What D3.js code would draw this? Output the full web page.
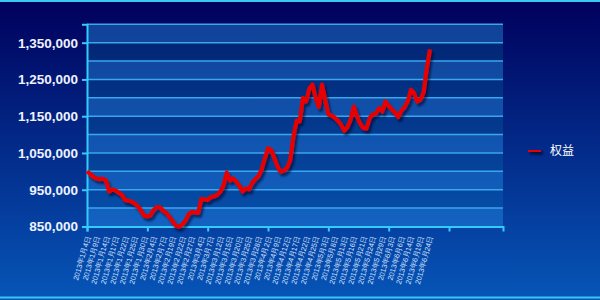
<!DOCTYPE html>
<html>
  <head>
    <meta charset="utf-8" />
    <script src="https://cdn.jsdelivr.net/npm/d3@7"></script>
    <style>
      html, body { margin: 0; padding: 0; background: #000a5e; }
      #container { width: 600px; height: 300px; }
    </style>
  </head>
  <body>
    <div id="container"></div>
    <script>
      // trading days, 2013
      const dates = [
        "1/4", "1/7", "1/8", "1/9", "1/10", "1/11", "1/14", "1/15", "1/16", "1/17",
        "1/18", "1/21", "1/22", "1/23", "1/24", "1/25", "1/28", "1/29", "1/30", "1/31",
        "2/1", "2/4", "2/5", "2/6", "2/7", "2/8", "2/18", "2/19", "2/20", "2/21",
        "2/22", "2/25", "2/26", "2/27", "2/28", "3/1", "3/4", "3/5", "3/6", "3/7",
        "3/8", "3/11", "3/12", "3/13", "3/14", "3/15", "3/18", "3/19", "3/20", "3/21",
        "3/22", "3/25", "3/26", "3/27", "3/28", "3/29", "4/1", "4/2", "4/3", "4/8",
        "4/9", "4/10", "4/11", "4/12", "4/15", "4/16", "4/17", "4/18", "4/19", "4/22",
        "4/23", "4/24", "4/25", "4/26", "5/2", "5/3", "5/6", "5/7", "5/8", "5/9",
        "5/10", "5/13", "5/14", "5/15", "5/16", "5/17", "5/20", "5/21", "5/22", "5/23",
        "5/24", "5/27", "5/28", "5/29", "5/30", "5/31", "6/3", "6/4", "6/5", "6/6",
        "6/7", "6/13", "6/14", "6/17", "6/18", "6/19", "6/20", "6/21", "6/24"
      ];
      // 权益
      const equity = [
        1000000, 993000, 985000, 980000, 979000, 980000, 975000, 945000, 951000, 948000,
        942000, 936000, 922000, 920000, 918000, 913000, 905000, 893000, 880000, 877000,
        881000, 895000, 903000, 902000, 893000, 887000, 875000, 864000, 852000, 849000,
        856000, 866000, 883000, 890000, 888000, 887000, 925000, 924000, 922000, 930000,
        932000, 936000, 945000, 962000, 997000, 975000, 981000, 972000, 960000, 945000,
        954000, 951000, 968000, 979000, 987000, 1005000, 1035000, 1063000, 1058000, 1036000,
        1013000, 999000, 1002000, 1010000, 1031000, 1095000, 1138000, 1136000, 1200000, 1190000,
        1225000, 1236000, 1200000, 1175000, 1236000, 1195000, 1155000, 1152000, 1146000, 1138000,
        1127000, 1110000, 1120000, 1140000, 1176000, 1150000, 1130000, 1118000, 1116000, 1145000,
        1155000, 1158000, 1172000, 1163000, 1190000, 1178000, 1168000, 1160000, 1148000, 1165000,
        1175000, 1190000, 1222000, 1213000, 1190000, 1195000, 1215000, 1280000, 1332000
      ];
      const yTickValues = [850000, 950000, 1050000, 1150000, 1250000, 1350000];
      const gridValues = [850000, 900000, 950000, 1000000, 1050000, 1100000, 1150000, 1200000, 1250000, 1300000, 1350000, 1400000];
      const xTickMarks = [0, 19, 38, 57, 76, 95, 114];
      const seriesName = "权益";

      const W = 600, H = 300;
      const svg = d3.select("#container").append("svg")
        .attr("width", W).attr("height", H);

      const defs = svg.append("defs");
      const bg = defs.append("linearGradient").attr("id", "bg")
        .attr("x1", 0).attr("y1", 0).attr("x2", 0).attr("y2", 1);
      bg.append("stop").attr("offset", "0%").attr("stop-color", "#00005c");
      bg.append("stop").attr("offset", "100%").attr("stop-color", "#0656b8");
      const pg = defs.append("linearGradient").attr("id", "plotbg")
        .attr("x1", 0).attr("y1", 0).attr("x2", 0).attr("y2", 1);
      pg.append("stop").attr("offset", "0%").attr("stop-color", "#02226f");
      pg.append("stop").attr("offset", "100%").attr("stop-color", "#0650ac");
      const sh = defs.append("filter").attr("id", "shadow")
        .attr("filterUnits", "userSpaceOnUse")
        .attr("x", 0).attr("y", 0).attr("width", W).attr("height", H);
      sh.append("feDropShadow").attr("dx", 2).attr("dy", 3).attr("stdDeviation", 1.2)
        .attr("flood-color", "#000020").attr("flood-opacity", 0.55);

      svg.append("rect").attr("width", W).attr("height", H).attr("fill", "url(#bg)");
      svg.append("line").attr("x1", 0).attr("x2", W).attr("y1", 1).attr("y2", 1)
        .attr("stroke", "#38c8f0").attr("stroke-width", 2);
      svg.append("line").attr("x1", 0).attr("x2", W).attr("y1", 297.5).attr("y2", 297.5)
        .attr("stroke", "#38c8f0").attr("stroke-width", 2);

      const x = d3.scaleLinear().domain([0, 131]).range([87, 503]);
      const y = d3.scaleLinear().domain([850000, 1400000]).range([226.5, 24.3]);

      // plot area
      svg.append("rect")
        .attr("x", x(0)).attr("y", y(1400000))
        .attr("width", x(131) - x(0)).attr("height", y(850000) - y(1400000))
        .attr("fill", "url(#plotbg)");

      // lighter bands
      svg.append("g").selectAll("rect")
        .data(gridValues.filter((v, i) => i % 2 === 0 && i < gridValues.length - 1))
        .join("rect")
        .attr("x", x(0)).attr("width", x(131) - x(0))
        .attr("y", d => y(d + 50000)).attr("height", d => y(d) - y(d + 50000))
        .attr("fill", "#2f8af0").attr("opacity", 0.32);

      // gridlines
      svg.append("g").selectAll("line")
        .data(gridValues.slice(1))
        .join("line")
        .attr("x1", x(0)).attr("x2", x(131))
        .attr("y1", d => y(d)).attr("y2", d => y(d))
        .attr("stroke", "#3aa6ec").attr("stroke-width", 1.5);

      // y axis
      const yAxis = svg.append("g").attr("transform", `translate(${x(0)},0)`)
        .call(d3.axisLeft(y).tickValues(yTickValues).tickSize(5).tickPadding(4)
          .tickFormat(d3.format(",")));
      yAxis.select(".domain").attr("stroke", "#33ccff").attr("stroke-width", 2);
      yAxis.selectAll(".tick line").attr("stroke", "#33ccff").attr("stroke-width", 2);
      yAxis.selectAll(".tick text")
        .attr("fill", "#eef2ff").attr("font-family", "Liberation Sans, Arial, sans-serif")
        .attr("font-weight", "bold").attr("font-size", 13.5);

      // x axis tick marks
      const xAxis = svg.append("g").attr("transform", `translate(0,${y(850000)})`)
        .call(d3.axisBottom(x).tickValues(xTickMarks).tickSize(5).tickFormat(""));
      xAxis.select(".domain").attr("stroke", "#33ccff").attr("stroke-width", 2);
      xAxis.selectAll(".tick line").attr("stroke", "#33ccff").attr("stroke-width", 2);

      // category labels, every third day
      svg.append("g").selectAll("text")
        .data(dates.map((d, i) => [d, i]).filter(d => d[1] % 3 === 0))
        .join("text")
        .attr("transform", d => `translate(${x(d[1]) + 1},${y(850000) + 10}) rotate(-74)`)
        .attr("text-anchor", "end").attr("dy", "0.35em")
        .attr("fill", "#d6e2ff").attr("font-size", 7.3)
        .attr("font-family", "Liberation Sans, Arial, sans-serif")
        .text(d => {
          const p = d[0].split("/");
          return `2013年${p[0]}月${p[1]}日`;
        });

      // line
      svg.append("path")
        .datum(equity)
        .attr("fill", "none").attr("stroke", "#e80000").attr("stroke-width", 4.2)
        .attr("stroke-linejoin", "round")
        .attr("filter", "url(#shadow)")
        .attr("d", d3.line().x((d, i) => x(i)).y(d => y(d)));

      // legend
      const lg = svg.append("g").attr("transform", "translate(528,150)");
      lg.append("rect").attr("x", 0).attr("y", -2).attr("width", 13).attr("height", 4)
        .attr("fill", "#e80000").attr("filter", "url(#shadow)");
      lg.append("text").attr("x", 22).attr("y", 4.5)
        .attr("fill", "#ffffff").attr("font-size", 12)
        .attr("font-family", "Noto Sans CJK SC, sans-serif")
        .text(seriesName);
    </script>
  </body>
</html>
